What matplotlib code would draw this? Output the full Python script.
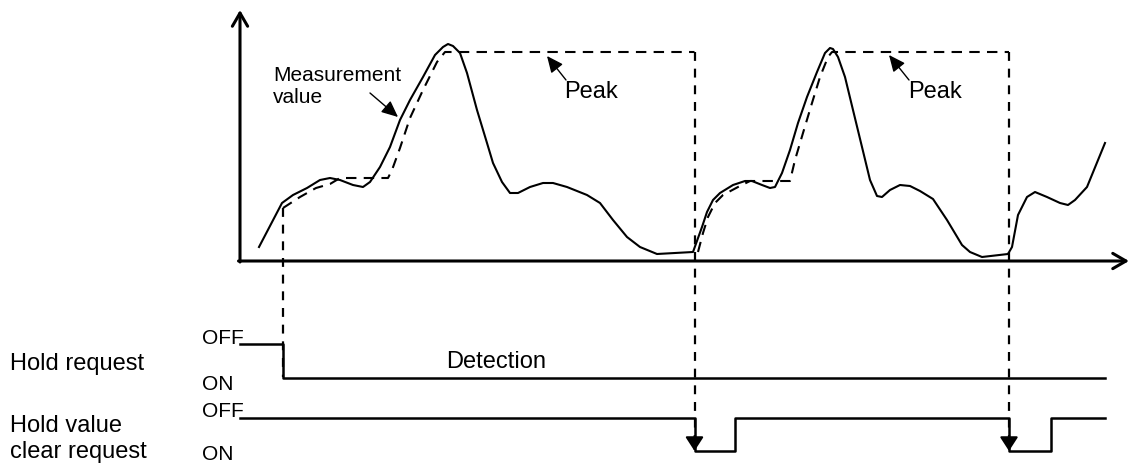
import matplotlib
matplotlib.use("Agg")
import matplotlib.pyplot as plt

plt.rcParams['font.family'] = ['Liberation Sans', 'DejaVu Sans']

# ---- data (diagram units: x = time in px, y = screen position in px, downwards) ----
meas_t = [259, 282, 293, 307, 320, 330, 340, 353, 363, 370, 380, 390, 400, 410, 423, 435,
          443, 448, 453, 460, 467, 477, 487, 493, 502, 510, 518, 530, 543, 553, 567, 587,
          600, 613, 627, 640, 657, 693, 702, 707, 713, 720, 733, 745, 752, 762, 770, 775,
          782, 790, 798, 807, 817, 825, 830, 833, 838, 845, 853, 862, 870, 877, 882, 890,
          900, 910, 920, 933, 947, 962, 970, 982, 1008, 1012, 1018, 1027, 1035, 1047, 1060,
          1068, 1075, 1087, 1105]
meas_v = [247, 203, 195, 188, 180, 178, 180, 185, 187, 182, 167, 147, 120, 100, 77, 55,
          47, 44, 46, 53, 73, 110, 143, 163, 182, 193, 193, 187, 183, 183, 187, 195,
          203, 220, 237, 247, 254, 252, 227, 212, 200, 193, 185, 181, 181, 185, 188, 187,
          173, 150, 123, 97, 72, 53, 48, 49, 57, 77, 110, 147, 180, 196, 197, 190,
          185, 186, 191, 199, 220, 245, 252, 257, 254, 247, 215, 197, 192, 197, 203,
          205, 200, 187, 143]

hold1_t = [283, 300, 316, 330, 340, 388, 392, 400, 410, 423, 437, 445, 694.5]
hold1_v = [208, 197, 188, 184, 178, 178, 170, 148, 118, 90, 62, 52, 52]
hold2_t = [698, 703, 708, 715, 723, 738, 750, 790, 795, 803, 812, 820, 828, 832, 1009]
hold2_v = [252, 233, 217, 203, 195, 187, 181, 181, 160, 133, 103, 77, 57, 52, 52]

# vertical dashed guide lines: (time, top, bottom)
guide_t = [283, 694.5, 1009]
guide_top = [208, 52, 52]
guide_bottom = [377, 440, 440]

req_t = [240, 283, 283, 1105]
req_v = [344, 344, 377.5, 377.5]
clr_t = [240, 694.5, 694.5, 735, 735, 1009, 1009, 1050.5, 1050.5, 1105]
clr_v = [418, 418, 451, 451, 418, 418, 451, 451, 418, 418]

clear_times = [694.5, 1009]

fig = plt.figure(figsize=(11.3, 4.67), dpi=100)
ax = fig.add_axes([0, 0, 1, 1])
ax.set_xlim(0, 1130)
ax.set_ylim(467, 0)
ax.axis('off')

# axes with open arrowheads
ax.annotate('', xy=(1129, 261), xytext=(238.5, 261),
            arrowprops=dict(arrowstyle='->,head_length=0.95,head_width=0.55', mutation_scale=10,
                            lw=2.2, color='black', shrinkA=0, shrinkB=0))
ax.annotate('', xy=(240, 10), xytext=(240, 262),
            arrowprops=dict(arrowstyle='->,head_length=0.95,head_width=0.55', mutation_scale=10,
                            lw=2.2, color='black', shrinkA=0, shrinkB=0))

# measurement curve
ax.plot(meas_t, meas_v, color='black', lw=1.5, solid_joinstyle='round')

# held value (dashed)
for t, v in [(hold1_t, hold1_v), (hold2_t, hold2_v)]:
    ax.plot(t, v, color='black', lw=1.5, dashes=[5, 3.5])
for x, top, bot in zip(guide_t, guide_top, guide_bottom):
    ax.plot([x, x], [top, bot], color='black', lw=1.6, dashes=[4, 3.5])

# signals
ax.plot(req_t, req_v, color='black', lw=1.8)
ax.plot(clr_t, clr_v, color='black', lw=1.8)

# clear arrows
for x in clear_times:
    ax.annotate('', xy=(x, 451), xytext=(x, 436),
                arrowprops=dict(arrowstyle='-|>,head_length=0.85,head_width=0.55', mutation_scale=10,
                                lw=1.5, color='black', shrinkA=0, shrinkB=0))

# annotation arrows
arrow_kw = dict(arrowstyle='-|>,head_length=1.0,head_width=0.45', mutation_scale=10,
                lw=1.0, color='black', shrinkA=0, shrinkB=0)
ax.annotate('', xy=(398, 117), xytext=(370, 93), arrowprops=arrow_kw)
ax.annotate('', xy=(547, 56), xytext=(566, 80), arrowprops=arrow_kw)
ax.annotate('', xy=(889, 55), xytext=(909, 80), arrowprops=arrow_kw)

# texts
big = 17
ax.text(273, 81, 'Measurement', fontsize=15, va='baseline', ha='left')
ax.text(273, 103, 'value', fontsize=15, va='baseline', ha='left')
ax.text(564, 98, 'Peak', fontsize=big, va='baseline', ha='left')
ax.text(908, 98, 'Peak', fontsize=big, va='baseline', ha='left')
ax.text(496, 367.5, 'Detection', fontsize=big, va='baseline', ha='center')
ax.text(10, 370, 'Hold request', fontsize=big, va='baseline', ha='left')
ax.text(10, 432.5, 'Hold value', fontsize=big, va='baseline', ha='left')
ax.text(10, 458, 'clear request', fontsize=big, va='baseline', ha='left')
small = 15
ax.text(202, 344, 'OFF', fontsize=small, va='baseline', ha='left')
ax.text(202, 390.5, 'ON', fontsize=small, va='baseline', ha='left')
ax.text(202, 417, 'OFF', fontsize=small, va='baseline', ha='left')
ax.text(202, 460, 'ON', fontsize=small, va='baseline', ha='left')

fig.savefig('out.png', dpi=100)
